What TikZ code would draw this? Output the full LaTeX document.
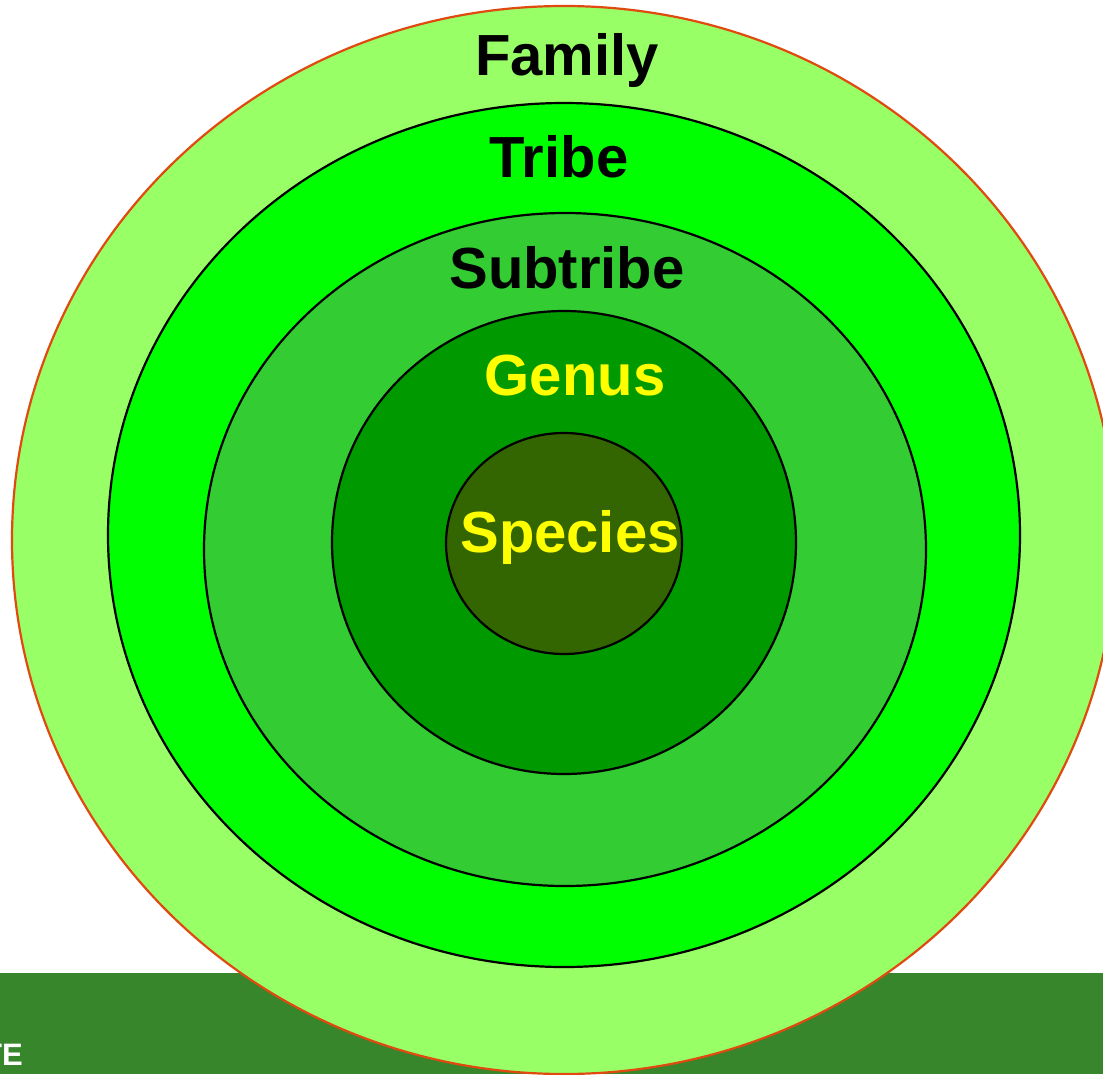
\documentclass[tikz,border=0pt]{standalone}
\usepackage{fontspec}
\setmainfont{Liberation Sans}
\definecolor{famc}{HTML}{99FF66}
\definecolor{tribec}{HTML}{00FF00}
\definecolor{subc}{HTML}{33CC33}
\definecolor{genc}{HTML}{009900}
\definecolor{spec}{HTML}{336600}
\definecolor{barc}{HTML}{38862C}
\definecolor{rimc}{HTML}{E04A10}
\definecolor{ylw}{HTML}{FFFF00}
\begin{document}
\begin{tikzpicture}[x=1pt,y=-1pt,
  ring/.style={draw=black,line width=2.2pt},
  lbl/.style={font=\bfseries\fontsize{58}{60}\selectfont,inner sep=0pt,anchor=base}]
\useasboundingbox (0,0) rectangle (1103,1074);
\begin{scope}
\clip (0,0) rectangle (1103,1074);
\fill[white] (0,0) rectangle (1103,1074);
\fill[barc] (0,973) rectangle (1103,1074);
\node[font=\bfseries\fontsize{31}{32}\selectfont,text=white,inner sep=0pt,anchor=base east] (te) at (23,1065) {TE};
\draw[fill=famc,draw=rimc,line width=2.2pt] (564,540) ellipse [x radius=552,y radius=534];
\end{scope}
\draw[ring,fill=tribec] (564,535) ellipse [x radius=456,y radius=432];
\draw[ring,fill=subc] (565,549.5) ellipse [x radius=361,y radius=336.5];
\draw[ring,fill=genc] (564,542.5) ellipse [x radius=232,y radius=231.5];
\draw[ring,fill=spec] (564,543.5) ellipse [x radius=118,y radius=110.5];
\node[lbl] (fam) at (567,75) {Family};
\node[lbl] (tri) at (559,177) {Tribe};
\node[lbl] (sub) at (567,288) {Subtribe};
\node[lbl,text=ylw] (gen) at (575,395) {Genus};
\node[lbl,text=ylw] (spc) at (570,552) {Species};
\end{tikzpicture}
\end{document}
